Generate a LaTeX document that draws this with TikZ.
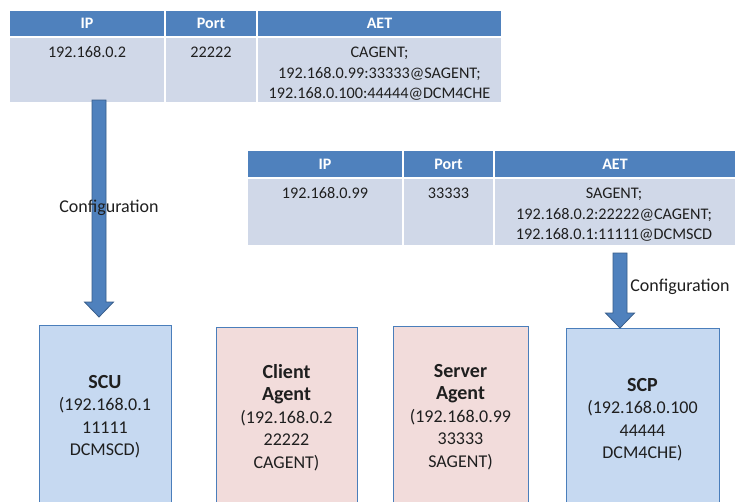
\documentclass[tikz,border=0pt]{standalone}
\usepackage{fontspec}
\setmainfont{Carlito}
\usetikzlibrary{calc}
\definecolor{hdrblue}{HTML}{4F81BD}
\definecolor{rowblue}{HTML}{D0D8E8}
\definecolor{boxblue}{HTML}{C6D9F1}
\definecolor{boxpink}{HTML}{F2DCDB}
\definecolor{edgeblue}{HTML}{4A7EBB}
\definecolor{arrowedge}{HTML}{385D8A}
\newcommand{\devname}[1]{{\fontsize{20}{22.5}\bfseries\selectfont #1}}
\tikzset{
  hcell/.style={fill=hdrblue, draw=white, line width=1.2pt, inner sep=0pt,
    text=white, font=\fontsize{16}{20}\bfseries\selectfont},
  bcell/.style={fill=rowblue, draw=white, line width=1.2pt, inner sep=0pt},
  % multi-line texts are placed by the baseline of their last line
  celltext/.style={anchor=base, align=center, inner sep=0pt,
    font=\fontsize{16.2}{20.5}\selectfont, text=black!88},
  devbox/.style={draw=edgeblue, line width=1.2pt, inner sep=0pt, anchor=north west},
  devtext/.style={anchor=base, align=center, inner sep=0pt,
    font=\fontsize{18}{22.5}\selectfont, text=black!88},
  cfglabel/.style={anchor=base, inner sep=0pt, font=\fontsize{18}{22}\selectfont, text=black!88},
  blockarrow/.style={fill=hdrblue, draw=arrowedge, line width=0.8pt, line join=miter}
}
% filled block arrow from #1 (tail) to #2 (tip), pointing downwards
\newcommand{\downarrowblock}[2]{%
  \filldraw[blockarrow] ($(#1)+(-7,0)$) -- ($(#2)+(-7,-15)$) -- ($(#2)+(-14.5,-15)$)
    -- (#2) -- ($(#2)+(14.5,-15)$) -- ($(#2)+(7,-15)$) -- ($(#1)+(7,0)$) -- cycle;}
\begin{document}
\begin{tikzpicture}[x=1pt,y=-1pt]
\useasboundingbox (0,0) rectangle (735,501);
\fill[white] (0,0) rectangle (735,501);
\clip (0,0) rectangle (735,501);

% ---- client agent table ----
\node[hcell, minimum width=156, minimum height=27] (c1h1) at (87,23.5) {IP};
\node[hcell, minimum width=92,  minimum height=27] (c1h2) at (211,23.5) {Port};
\node[hcell, minimum width=245, minimum height=27] (c1h3) at (379.5,23.5) {AET};
\node[bcell, minimum width=156, minimum height=66] (c1b1) at (87,70) {};
\node[bcell, minimum width=92,  minimum height=66] (c1b2) at (211,70) {};
\node[bcell, minimum width=245, minimum height=66] (c1b3) at (379.5,70) {};
\node[celltext] (c1ip)   at (87,57.5)  {192.168.0.2};
\node[celltext] (c1port) at (211,57.5) {22222};
\node[celltext] (c1aet)  at (379.5,98.5) {CAGENT;\\192.168.0.99:33333@SAGENT;\\192.168.0.100:44444@DCM4CHE};

% ---- server agent table ----
\node[hcell, minimum width=156, minimum height=28] (c2h1) at (325,164) {IP};
\node[hcell, minimum width=91,  minimum height=28] (c2h2) at (448.5,164) {Port};
\node[hcell, minimum width=242, minimum height=28] (c2h3) at (615,164) {AET};
\node[bcell, minimum width=156, minimum height=68] (c2b1) at (325,212) {};
\node[bcell, minimum width=91,  minimum height=68] (c2b2) at (448.5,212) {};
\node[bcell, minimum width=242, minimum height=68] (c2b3) at (615,212) {};
\node[celltext] (c2ip)   at (325,198.5) {192.168.0.99};
\node[celltext] (c2port) at (448.5,198.5) {33333};
\node[celltext] (c2aet)  at (614,239.5) {SAGENT;\\192.168.0.2:22222@CAGENT;\\192.168.0.1:11111@DCMSCD};

% ---- devices ----
\node[devbox, fill=boxblue, minimum width=132, minimum height=200] (scu) at (39,325) {};
\node[devbox, fill=boxpink, minimum width=141, minimum height=200] (cagent) at (216,327) {};
\node[devbox, fill=boxpink, minimum width=135, minimum height=200] (sagent) at (393,326) {};
\node[devbox, fill=boxblue, minimum width=153, minimum height=200] (scp) at (566,328) {};

\node[devtext] (scutxt) at (105,455.5) {\devname{SCU}\\(192.168.0.1\\11111\\DCMSCD)};
\node[devtext] (catxt) at (286.5,468) {\devname{Client}\\\devname{Agent}\\(192.168.0.2\\22222\\CAGENT)};
\node[devtext] (satxt) at (460.5,467) {\devname{Server}\\\devname{Agent}\\(192.168.0.99\\33333\\SAGENT)};
\node[devtext] (scptxt) at (642.5,458.5) {\devname{SCP}\\(192.168.0.100\\44444\\DCM4CHE)};

% ---- configuration arrows ----
\coordinate (cfg1tail) at (99,100);
\coordinate (cfg1tip)  at (99,317);
\coordinate (cfg2tail) at (620,253);
\coordinate (cfg2tip)  at (620,328);
\downarrowblock{cfg1tail}{cfg1tip}
\downarrowblock{cfg2tail}{cfg2tip}
\node[cfglabel] (cfg1) at (109,212.5) {Configuration};
\node[cfglabel] (cfg2) at (680,291) {Configuration};
\end{tikzpicture}
\end{document}
